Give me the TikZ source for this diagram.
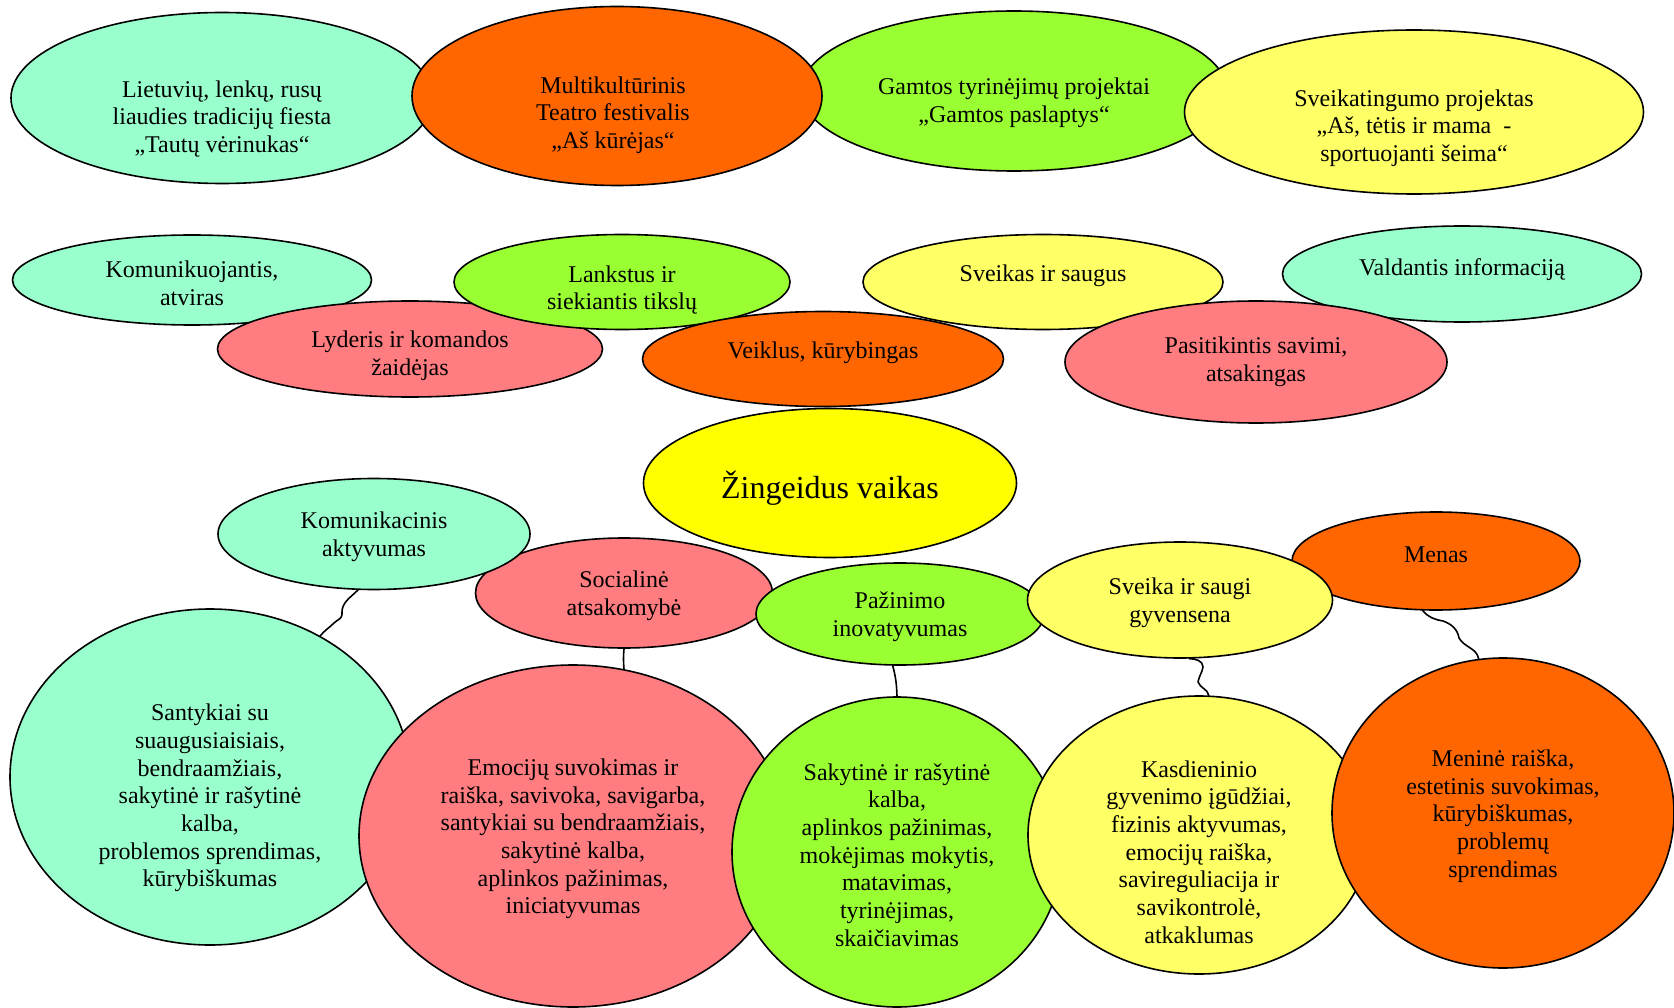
\documentclass[tikz,border=0pt]{standalone}
\usepackage{fontspec}
\setmainfont{Liberation Serif}
\usetikzlibrary{shapes.geometric}
\definecolor{mint}{HTML}{99FFCC}
\definecolor{carrot}{HTML}{FF6600}
\definecolor{leaf}{HTML}{99FF33}
\definecolor{lemon}{HTML}{FFFF66}
\definecolor{rose}{HTML}{FF7C80}
\definecolor{sun}{HTML}{FFFF00}
\tikzstyle{bubble} = [ellipse, draw=black, line width=1.6pt, inner sep=0pt]
\tikzstyle{bubtext} = [align=center, inner sep=0pt, yshift=-3pt, font=\fontsize{24}{27.7}\selectfont]
\tikzstyle{link} = [line width=1.6pt, line cap=round, line join=round]

\begin{document}
\begin{tikzpicture}[x=1pt, y=1pt]
\useasboundingbox[fill=white] (0,0) rectangle (1674,-1008);

% projektai
\node (fiesta) [bubble, fill=mint, minimum width=422pt, minimum height=171pt] at (222,-98) {};
\node (fiesta-t) [bubtext] at ([yshift=-18pt]fiesta.center) {Lietuvių, lenkų, rusų\\liaudies tradicijų fiesta\\„Tautų vėrinukas“};
\node (gamtos) [bubble, fill=leaf, minimum width=426pt, minimum height=160pt] at (1014,-91) {};
\node (gamtos-t) [bubtext] at ([yshift=-9pt]gamtos.center) {Gamtos tyrinėjimų projektai\\„Gamtos paslaptys“};
\node (teatras) [bubble, fill=carrot, minimum width=410pt, minimum height=179pt] at (617,-96) {};
\node (teatras-t) [bubtext] at ([xshift=-4pt, yshift=-16pt]teatras.center) {Multikultūrinis\\Teatro festivalis\\„Aš kūrėjas“};
\node (sportas) [bubble, fill=lemon, minimum width=459pt, minimum height=164pt] at (1414,-112) {};
\node (sportas-t) [bubtext] at ([yshift=-13pt]sportas.center) {Sveikatingumo projektas\\„Aš, tėtis ir mama~ -\\sportuojanti šeima“};

% savybes
\node (atviras) [bubble, fill=mint, minimum width=359pt, minimum height=90pt] at (192,-280) {};
\node (atviras-t) [bubtext] at (atviras.center) {Komunikuojantis,\\atviras};
\node (valdo) [bubble, fill=mint, minimum width=359pt, minimum height=96pt] at (1462,-274) {};
\node (valdo-t) [bubtext] at ([yshift=7pt]valdo.center) {Valdantis informaciją};
\node (lyderis) [bubble, fill=rose, minimum width=385pt, minimum height=96pt] at (410,-349) {};
\node (lyderis-t) [bubtext] at ([yshift=-4pt]lyderis.center) {Lyderis ir komandos\\žaidėjas};
\node (lankstus) [bubble, fill=leaf, minimum width=336pt, minimum height=95pt] at (622,-282) {};
\node (lankstus-t) [bubtext] at ([yshift=-5pt]lankstus.center) {Lankstus ir\\siekiantis tikslų};
\node (saugus) [bubble, fill=lemon, minimum width=360pt, minimum height=95pt] at (1043,-282) {};
\node (saugus-t) [bubtext] at ([yshift=9pt]saugus.center) {Sveikas ir saugus};
\node (pasitik) [bubble, fill=rose, minimum width=382pt, minimum height=122pt] at (1256,-362) {};
\node (pasitik-t) [bubtext] at ([yshift=3pt]pasitik.center) {Pasitikintis savimi,\\atsakingas};
\node (veiklus) [bubble, fill=carrot, minimum width=361pt, minimum height=95pt] at (823,-359) {};
\node (veiklus-t) [bubtext] at ([yshift=9pt]veiklus.center) {Veiklus, kūrybingas};

% centras
\node (vaikas) [bubble, fill=sun, minimum width=373pt, minimum height=149pt] at (830,-483) {};
\node (vaikas-t) [bubtext, font=\fontsize{32}{37}\selectfont] at ([yshift=-2pt]vaikas.center) {Žingeidus vaikas};

% sritys
\node (social) [bubble, fill=rose, minimum width=297pt, minimum height=110pt] at (624,-593) {};
\node (social-t) [bubtext] at (social.center) {Socialinė\\atsakomybė};
\node (komak) [bubble, fill=mint, minimum width=312pt, minimum height=111pt] at (374,-534) {};
\node (komak-t) [bubtext] at (komak.center) {Komunikacinis\\aktyvumas};
\node (menas) [bubble, fill=carrot, minimum width=288pt, minimum height=98pt] at (1436,-561) {};
\node (menas-t) [bubtext] at ([yshift=9pt]menas.center) {Menas};
\node (pazin) [bubble, fill=leaf, minimum width=288pt, minimum height=102pt] at (900,-614) {};
\node (pazin-t) [bubtext] at (pazin.center) {Pažinimo\\inovatyvumas};
\node (sveika) [bubble, fill=lemon, minimum width=305pt, minimum height=116pt] at (1180,-600) {};
\node (sveika-t) [bubtext] at (sveika.center) {Sveika ir saugi\\gyvensena};

% gebejimai
\node (santyk) [bubble, fill=mint, minimum width=400pt, minimum height=336pt] at (210,-777) {};
\node (santyk-t) [bubtext] at ([yshift=-18pt]santyk.center) {Santykiai su\\suaugusiaisiais,\\bendraamžiais,\\sakytinė ir rašytinė\\kalba,\\problemos sprendimas,\\kūrybiškumas};
\node (emoc) [bubble, fill=rose, minimum width=428pt, minimum height=342pt] at (573,-836) {};
\node (emoc-t) [bubtext] at (emoc.center) {Emocijų suvokimas ir\\raiška, savivoka, savigarba,\\santykiai su bendraamžiais,\\sakytinė kalba,\\aplinkos pažinimas,\\iniciatyvumas};
\node (sakyt) [bubble, fill=leaf, minimum width=330pt, minimum height=310pt] at (897,-852) {};
\node (sakyt-t) [bubtext] at (sakyt.center) {Sakytinė ir rašytinė\\kalba,\\aplinkos pažinimas,\\mokėjimas mokytis,\\matavimas,\\tyrinėjimas,\\skaičiavimas};
\node (kasd) [bubble, fill=lemon, minimum width=342pt, minimum height=278pt] at (1199,-835) {};
\node (kasd-t) [bubtext] at ([yshift=-14pt]kasd.center) {Kasdieninio\\gyvenimo įgūdžiai,\\fizinis aktyvumas,\\emocijų raiška,\\savireguliacija ir\\savikontrolė,\\atkaklumas};
\node (menin) [bubble, fill=carrot, minimum width=342pt, minimum height=310pt] at (1503,-813) {};
\node (menin-t) [bubtext] at (menin.center) {Meninė raiška,\\estetinis suvokimas,\\kūrybiškumas,\\problemų\\sprendimas};

% jungtys
\draw [link] (komak.254) to[out=-135,in=95] (342,-614) to[out=-85,in=45] (334,-623) to[out=-135,in=52] (santyk.52);
\draw [link] (social.270) to[out=-95,in=95] (emoc.73);
\draw [link] (pazin.262) to[out=-75,in=92] (sakyt.90);
\draw [link] (sveika.279) to[out=0,in=90] (1203,-667) to[out=-100,in=80] (1198,-682) to[out=-70,in=100] (kasd.86);
\draw [link] (menas.255) to[out=-50,in=170] (1443,-621) to[out=-20,in=100] (1459,-638) to[out=-60,in=100] (menin.99);

\end{tikzpicture}
\end{document}
